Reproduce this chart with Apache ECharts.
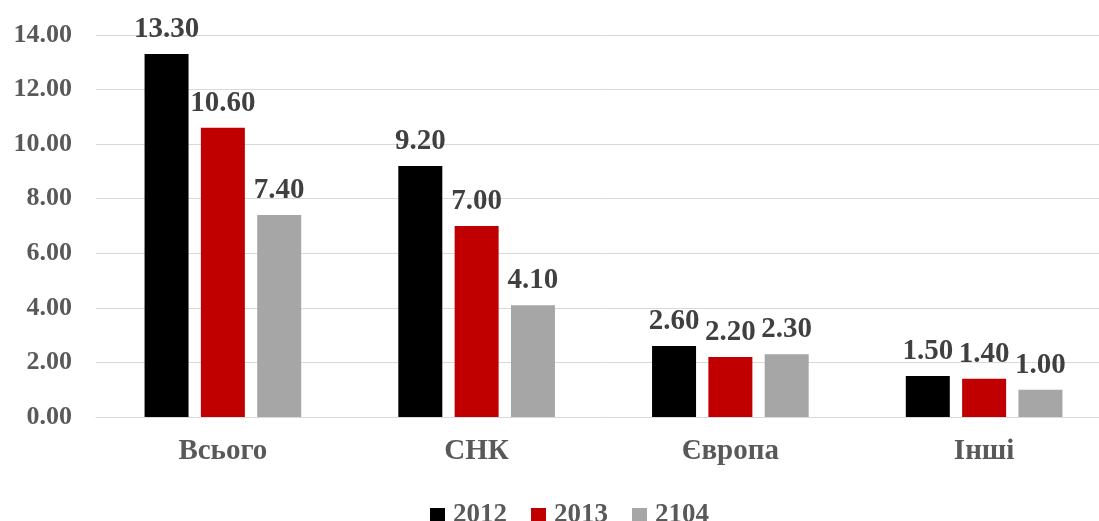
<!DOCTYPE html>
<html>
<head>
  <meta charset="utf-8">
  <title>chart</title>
  <script src="https://cdn.jsdelivr.net/npm/echarts@6/dist/echarts.min.js"></script>
  <style>
    html, body { margin: 0; padding: 0; background: #fff; overflow: hidden; }
    /* полотно трохи ширше за вікно: права частина сітки обрізається, як в оригіналі */
    #chart { width: 1111px; height: 521px; }
  </style>
</head>
<body>
<div id="chart"></div>
<script>
  // дані з картинки
  var categories = ['Всього', 'СНК', 'Європа', 'Інші'];
  var seriesNames = ['2012', '2013', '2104'];
  var values2012 = [13.3, 9.2, 2.6, 1.5];
  var values2013 = [10.6, 7.0, 2.2, 1.4];
  var values2104 = [7.4, 4.1, 2.3, 1.0];
  var colors = ['#000000', '#C00000', '#A6A6A6'];

  var font = '"Liberation Serif", "Times New Roman", serif';

  function makeSeries(name, data, color) {
    return {
      name: name,
      type: 'bar',
      data: data,
      barWidth: 44,
      barGap: '28%',
      itemStyle: { color: color },
      label: {
        show: true,
        position: 'top',
        distance: 10,
        formatter: function (p) { return p.value.toFixed(2); },
        fontFamily: font,
        fontWeight: 'bold',
        fontSize: 29,
        color: '#404040'
      }
    };
  }

  var chart = echarts.init(document.getElementById('chart'));
  chart.setOption({
    animation: false,
    textStyle: { fontFamily: font },
    grid: { left: 96, right: 0, top: 35, bottom: 104, containLabel: false },
    legend: {
      top: 497,
      left: 425,
      itemWidth: 15,
      itemHeight: 15,
      itemGap: 24,
      icon: 'rect',
      textStyle: { fontFamily: font, fontWeight: 'bold', fontSize: 27, color: '#595959', padding: [0, 0, 0, 3] },
      data: seriesNames
    },
    xAxis: {
      type: 'category',
      data: categories,
      axisLine: { lineStyle: { color: '#D9D9D9', width: 1 } },
      axisTick: { show: false },
      axisLabel: {
        margin: 20,
        fontFamily: font,
        fontWeight: 'bold',
        fontSize: 29,
        color: '#595959'
      }
    },
    yAxis: {
      type: 'value',
      min: 0,
      max: 14,
      interval: 2,
      axisLine: { show: false },
      axisTick: { show: false },
      splitLine: { lineStyle: { color: '#D9D9D9', width: 1 } },
      axisLabel: {
        margin: 24,
        fontFamily: font,
        fontWeight: 'bold',
        fontSize: 26,
        color: '#595959',
        formatter: function (v) { return v.toFixed(2); }
      }
    },
    series: [
      makeSeries(seriesNames[0], values2012, colors[0]),
      makeSeries(seriesNames[1], values2013, colors[1]),
      makeSeries(seriesNames[2], values2104, colors[2])
    ]
  });
</script>
</body>
</html>
